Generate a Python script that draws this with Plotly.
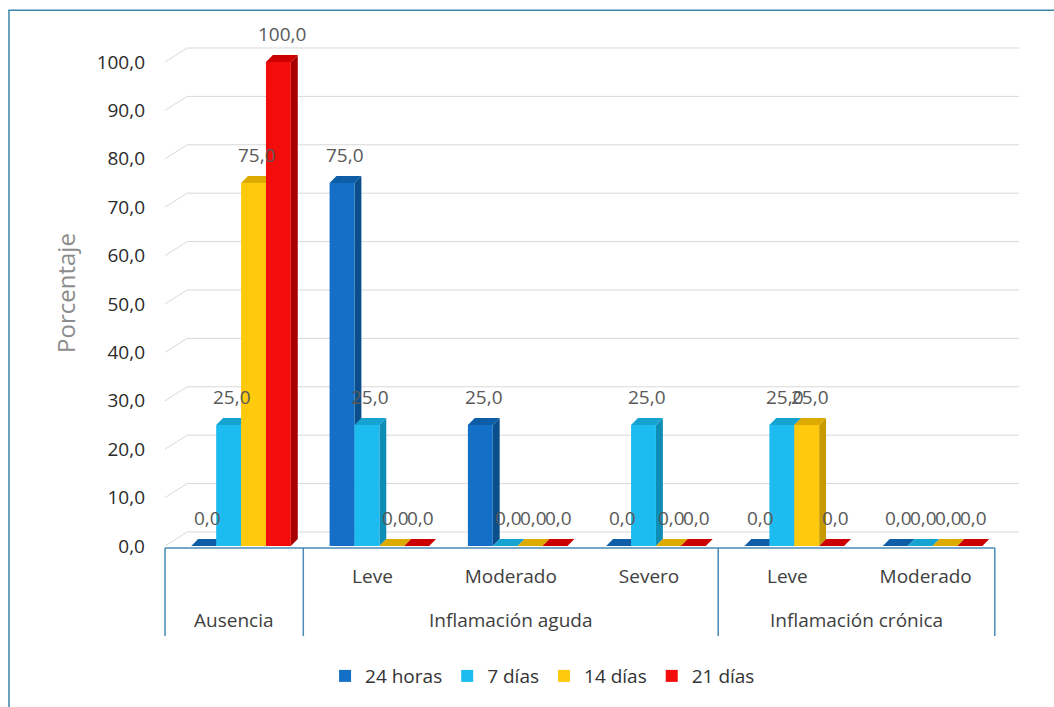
import plotly.graph_objects as go

# ---- data ----
categories = ["Leve", "Moderado", "Severo", "Leve", "Moderado"]  # sub-labels for positions 1..5
group_labels = ["Ausencia", "Inflamación aguda", "Inflamación crónica"]
group_centers = [0, 2, 4.5]
group_bounds = [-0.5, 0.5, 3.5, 5.5]
positions = [0, 1, 2, 3, 4, 5]

series_names = ["24 horas", "7 días", "14 días", "21 días"]
v_24h = [0, 75, 25, 0, 0, 0]
v_7d = [25, 25, 0, 25, 25, 0]
v_14d = [75, 0, 0, 0, 25, 0]
v_21d = [100, 0, 0, 0, 0, 0]
all_series = [v_24h, v_7d, v_14d, v_21d]

y_ticks = [0, 10, 20, 30, 40, 50, 60, 70, 80, 90, 100]

# ---- styles ----
front = ["#1470C6", "#1DBCF0", "#FFC90E", "#F20C0C"]
side = ["#0A4E8C", "#0E8DB5", "#C69A00", "#A80000"]
top = ["#0D5EA6", "#15A3D2", "#DDAA00", "#CC0000"]

XMIN, XMAX = -0.5, 5.675
YMIN, YMAX = 0, 104.55
BW = 0.18          # bar width (category units)
START = -0.31      # left edge of first bar relative to category
DX, DY = 0.05, 1.45   # bar depth (3D look)
GDX, GDY = 0.16, 2.9  # back wall offset of the grid

def px(xv):
    return (xv - XMIN) / (XMAX - XMIN)

fig = go.Figure()
shapes = []

# grid lines on the back wall
for t in y_ticks:
    shapes.append(dict(type="path", xref="x", yref="y", layer="below",
                       path=f"M {XMIN},{t} L {XMIN + GDX},{t + GDY} L {XMAX},{t + GDY}",
                       line=dict(color="#D9D9D9", width=1)))

annotations = []
for i, (name, vals) in enumerate(zip(series_names, all_series)):
    off = START + BW * i
    fig.add_trace(go.Bar(
        x=positions, y=vals, name=name, width=BW, offset=off,
        marker=dict(color=front[i], line=dict(width=0)),
        hoverinfo="y+name",
    ))
    for xpos, v in zip(positions, vals):
        xl = xpos + off
        xr = xl + BW
        # side face
        shapes.append(dict(type="path", xref="x", yref="y", layer="below",
                           path=f"M {xr},0 L {xr + DX},{DY} L {xr + DX},{v + DY} L {xr},{v} Z",
                           fillcolor=side[i], line=dict(width=0)))
        # top face
        shapes.append(dict(type="path", xref="x", yref="y", layer="below",
                           path=f"M {xl},{v} L {xl + DX},{v + DY} L {xr + DX},{v + DY} L {xr},{v} Z",
                           fillcolor=top[i], line=dict(width=0)))
        annotations.append(dict(x=(xl + xr) / 2 + DX / 2, y=v, xref="x", yref="y",
                                text=f"{v:.1f}".replace(".", ","), showarrow=False,
                                xanchor="center", yanchor="middle", yshift=28,
                                font=dict(family="Open Sans", size=19, color="#595959")))

# category axis line and dividers
AX_Y = -0.004
shapes.append(dict(type="line", xref="paper", yref="paper",
                   x0=px(group_bounds[0]), x1=px(group_bounds[-1]), y0=AX_Y, y1=AX_Y,
                   line=dict(color="#4A8AB5", width=1.5)))
for b in group_bounds:
    shapes.append(dict(type="line", xref="paper", yref="paper",
                       x0=px(b), x1=px(b), y0=AX_Y, y1=-0.178,
                       line=dict(color="#4A8AB5", width=1.5)))

# group labels (second row)
for lab, c in zip(group_labels, group_centers):
    annotations.append(dict(x=px(c), y=-0.146, xref="paper", yref="paper", text=lab,
                            showarrow=False, xanchor="center", yanchor="middle",
                            font=dict(family="Open Sans", size=19, color="#404040")))

# outer chart border
shapes.append(dict(type="rect", xref="paper", yref="paper",
                   x0=-0.1827, x1=1.2, y0=-0.5, y1=1.059,
                   line=dict(color="#3A86A8", width=1.5), layer="below"))

fig.update_layout(
    width=1054, height=707,
    margin=dict(l=165, r=35, t=40, b=161),
    paper_bgcolor="white", plot_bgcolor="white",
    separators=",.",
    barmode="overlay",
    font=dict(family="Open Sans", color="#404040"),
    showlegend=True,
    legend=dict(orientation="h", x=px(2.23), xanchor="center", y=-0.257, yanchor="middle",
                font=dict(family="Open Sans", size=19, color="#333333"),
                traceorder="normal", itemwidth=30),
    shapes=shapes,
    annotations=annotations,
)
fig.update_yaxes(
    range=[YMIN, YMAX], tickvals=y_ticks, tickformat=".1f",
    showgrid=False, zeroline=False, showline=False, ticks="",
    tickfont=dict(family="Open Sans", size=19, color="#2B2B2B"),
    ticklabelstandoff=19,
    title=dict(text="Porcentaje", font=dict(family="Open Sans", size=24, color="#8C8C8C"), standoff=14),
)
fig.update_xaxes(
    range=[XMIN, XMAX], tickvals=positions[1:], ticktext=categories,
    showgrid=False, zeroline=False, showline=False, ticks="",
    tickfont=dict(family="Open Sans", size=19, color="#404040"),
    ticklabelstandoff=17,
)

fig.write_html("out.html")
